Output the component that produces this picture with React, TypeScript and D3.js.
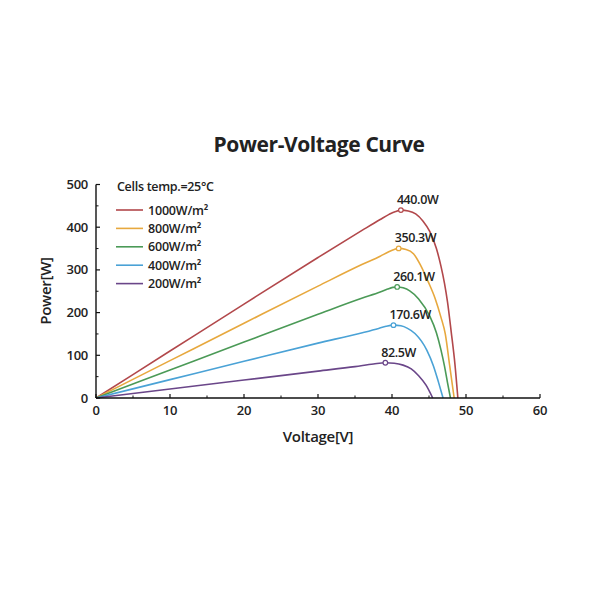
import React from "react";
import * as d3 from "d3";

const seriesNames = ["1000W/m²", "800W/m²", "600W/m²", "400W/m²", "200W/m²"];
const seriesColors = ["#b2484b", "#e7a83e", "#4b9a57", "#4aa2d6", "#6a4689"];

const volt1000 = [0, 10, 20, 30, 36, 38.4, 39.6, 40.5, 41.2, 42.2, 43.2, 44.2, 45.1, 46.0, 46.6, 47.1, 47.5, 48.0, 48.5, 48.9];
const power1000 = [0, 110, 220, 329, 393, 418, 430, 437, 440, 438, 431, 414, 390, 350, 310, 268, 225, 155, 80, 0];

const volt800 = [0, 10, 20, 30, 36, 38.4, 39.5, 40.3, 40.9, 41.9, 42.9, 43.8, 44.9, 45.85, 46.6, 47.2, 47.8, 48.4];
const power800 = [0, 87.5, 175, 262, 313, 332, 342, 348, 350.3, 348, 338, 313, 272, 232, 190, 150, 75, 0];

const volt600 = [0, 10, 20, 30, 36, 38.4, 39.4, 40.1, 40.7, 41.5, 42.4, 43.6, 45.1, 46.0, 46.6, 47.1, 47.5, 47.9];
const power600 = [0, 65.5, 131, 196, 234, 248, 255, 259, 260.1, 258, 251, 232, 192, 153, 114, 74, 36, 0];

const volt400 = [0, 10, 20, 30, 36, 38.2, 39.2, 40.2, 41.2, 42.1, 43.1, 44.7, 45.6, 46.3, 46.9];
const power400 = [0, 43, 86, 128.5, 153, 163, 168, 170.6, 169, 163, 151, 112, 75, 36, 0];

const volt200 = [0, 10, 20, 30, 35, 37.5, 39.1, 40.3, 41.5, 42.6, 43.6, 44.6, 45.5];
const power200 = [0, 21, 42, 63, 73.5, 79.5, 82.5, 81.5, 77, 68, 52, 30, 0];

const peakVolts = [41.2, 40.9, 40.7, 40.2, 39.1];
const peakPowers = [440.0, 350.3, 260.1, 170.6, 82.5];
const peakLabels = ["440.0W", "350.3W", "260.1W", "170.6W", "82.5W"];

const xTicks = [0, 10, 20, 30, 40, 50, 60];
const xMinorTicks = [5, 15, 25, 35, 45, 55];
const yTicks = [0, 100, 200, 300, 400, 500];
const yMinorTicks = [50, 150, 250, 350, 450];

const volts = [volt1000, volt800, volt600, volt400, volt200];
const powers = [power1000, power800, power600, power400, power200];

const FONT = "'Open Sans', 'Noto Sans', sans-serif";

export default function App() {
  const x = d3.scaleLinear().domain([0, 60]).range([96, 540]);
  const y = d3.scaleLinear().domain([0, 500]).range([398, 184.5]);
  const line = d3
    .line<[number, number]>()
    .x((d) => x(d[0]))
    .y((d) => y(d[1]))
    .curve(d3.curveMonotoneX);

  return (
    <svg width={600} height={600} style={{ position: "absolute", left: 0, top: 0, background: "#fff" }}>
      <text x={319} y={152} textAnchor="middle" fontFamily={FONT} fontWeight={700} fontSize={21} fill="#222" letterSpacing={-0.4}>
        Power-Voltage Curve
      </text>

      {volts.map((vs, i) => (
        <path
          key={i}
          d={line(vs.map((v, j) => [v, powers[i][j]] as [number, number])) || ""}
          fill="none"
          stroke={seriesColors[i]}
          strokeWidth={1.6}
        />
      ))}

      <line x1={x(0)} x2={x(60)} y1={y(0)} y2={y(0)} stroke="#111" strokeWidth={1.4} />
      <line x1={x(0)} x2={x(0)} y1={y(0)} y2={y(500)} stroke="#111" strokeWidth={1.4} />
      {xTicks.map((t) => (
        <g key={"xt" + t}>
          <line x1={x(t)} x2={x(t)} y1={y(0)} y2={y(0) - 4} stroke="#111" strokeWidth={1.2} />
          <text x={x(t)} y={y(0) + 17} textAnchor="middle" fontFamily={FONT} fontWeight={600} fontSize={13} fill="#222" letterSpacing={-0.3}>
            {t}
          </text>
        </g>
      ))}
      {xMinorTicks.map((t) => (
        <line key={"xm" + t} x1={x(t)} x2={x(t)} y1={y(0)} y2={y(0) - 2.5} stroke="#111" strokeWidth={1} />
      ))}
      {yTicks.map((t) => (
        <g key={"yt" + t}>
          <line x1={x(0)} x2={x(0) + 4} y1={y(t)} y2={y(t)} stroke="#111" strokeWidth={1.2} />
          <text x={x(0) - 8} y={y(t) + 4.5} textAnchor="end" fontFamily={FONT} fontWeight={600} fontSize={13} fill="#222" letterSpacing={-0.3}>
            {t}
          </text>
        </g>
      ))}
      {yMinorTicks.map((t) => (
        <line key={"ym" + t} x1={x(0)} x2={x(0) + 2.5} y1={y(t)} y2={y(t)} stroke="#111" strokeWidth={1} />
      ))}

      <text x={318} y={442} textAnchor="middle" fontFamily={FONT} fontWeight={600} fontSize={15} fill="#222" letterSpacing={-0.3}>
        Voltage[V]
      </text>
      <text
        transform={`translate(51, ${291}) rotate(-90)`}
        textAnchor="middle"
        fontFamily={FONT}
        fontWeight={600}
        fontSize={15}
        fill="#222"
        letterSpacing={-0.3}
      >
        Power[W]
      </text>

      {peakVolts.map((v, i) => (
        <g key={"pk" + i}>
          <circle cx={x(v)} cy={y(peakPowers[i])} r={2.3} fill="#fff" stroke={seriesColors[i]} strokeWidth={1.2} />
          <text
            x={x(v) - 4}
            y={y(peakPowers[i]) - 6}
            fontFamily={FONT}
            fontWeight={600}
            fontSize={12.5}
            fill="#222"
            letterSpacing={-0.4}
          >
            {peakLabels[i]}
          </text>
        </g>
      ))}

      <text x={117} y={191} fontFamily={FONT} fontWeight={600} fontSize={12.5} fill="#222" letterSpacing={-0.3}>
        Cells temp.=25°C
      </text>
      {seriesNames.map((n, i) => (
        <g key={"lg" + i}>
          <line x1={116} x2={143} y1={210 + i * 18.4} y2={210 + i * 18.4} stroke={seriesColors[i]} strokeWidth={1.6} />
          <text x={148} y={210 + i * 18.4 + 4.5} fontFamily={FONT} fontWeight={600} fontSize={12.5} fill="#222" letterSpacing={-0.2}>
            {n}
          </text>
        </g>
      ))}
    </svg>
  );
}
